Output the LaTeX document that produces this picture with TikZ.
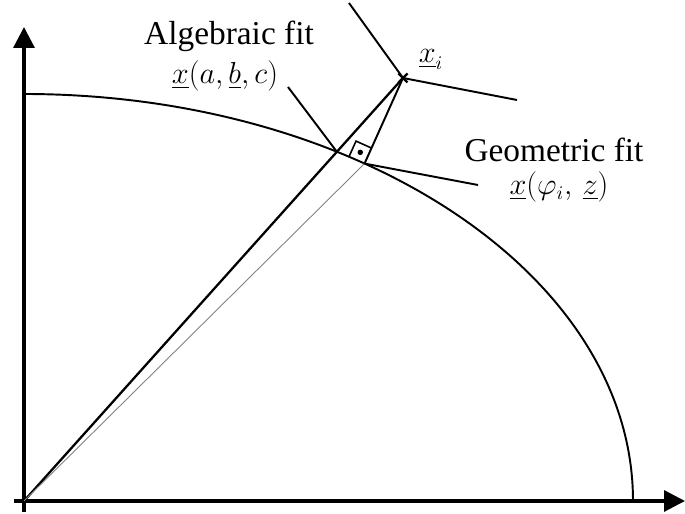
\documentclass[tikz,border=0pt]{standalone}
\usepackage{fontspec}
\setmainfont{Liberation Serif}
\usepackage{amsmath}
\usepackage{tikz}
\usetikzlibrary{arrows.meta, calc, positioning}

\tikzset{
  axis/.style={line width=1.8pt, -{Triangle[length=0.42cm, width=0.42cm]}},
  curve/.style={line width=1.1pt},
  ray/.style={line width=1.3pt},
  pointer/.style={line width=1.1pt},
  fitlabel/.style={font=\fontsize{19}{21}\selectfont, inner sep=0pt},
  mathlabel/.style={font=\fontsize{16}{18}\selectfont, inner sep=0pt}
}

\begin{document}
\begin{tikzpicture}
\useasboundingbox (-0.48,-0.26) rectangle (13.22,10.02);

% axes
\coordinate (O) at (0,0);
\draw[axis] (-0.2,0) -- (13.22,0);
\draw[axis] (0,-0.22) -- (0,9.48);

% ellipse quadrant
\draw[curve] (12.18,0) arc[start angle=0, end angle=90, x radius=12.18, y radius=8.14];

% point, algebraic and geometric fit
\coordinate (xi) at (7.58,8.46);
\coordinate (A) at ({12.18*cos(59.08)},{8.14*sin(59.08)});
\coordinate (F) at ({12.18*cos(56)},{8.14*sin(56)});

\draw[ray] (O) -- (xi);
\draw[line width=0.5pt, gray] (O) -- (F);
\draw[pointer] (F) -- (xi);

% right angle at the foot point
\coordinate (Fn) at ($(F)!0.34cm!(xi)$);
\coordinate (Ft) at ($(F)!0.34cm!90:(xi)$);
\draw[line width=0.9pt] (Fn) -- ($(Fn)+(Ft)-(F)$) -- (Ft);
\fill ($(Fn)!0.5!(Ft)$) circle (0.055);

% lines through the point
\coordinate (xiup) at (6.5,9.96);
\coordinate (xiright) at (9.86,8.02);
\draw[pointer] (xiup) -- (xi) -- (xiright);
\draw[line width=1.4pt] ($(xi)+(-0.09,-0.09)$) -- ($(xi)+(0.09,0.09)$)
                        ($(xi)+(-0.09,0.09)$) -- ($(xi)+(0.09,-0.09)$);

% labels
\node[fitlabel] (alg) at (4.1,9.3) {Algebraic fit};
\node[mathlabel] (algx) at (4.02,8.5) {$\underline{x}(a,\underline{b},c)$};
\node[mathlabel] (xilab) at (8.14,8.84) {$\underline{x}_i$};
\node[fitlabel] (geo) at (10.6,7.02) {Geometric fit};
\node[mathlabel] (geox) at (10.7,6.28) {$\underline{x}(\varphi_i,\,\underline{z})$};

% pointers
\coordinate (algend) at (5.28,8.28);
\coordinate (geoend) at (9.08,6.32);
\draw[pointer] (algend) -- (A);
\draw[pointer] (F) -- (geoend);
\end{tikzpicture}
\end{document}
